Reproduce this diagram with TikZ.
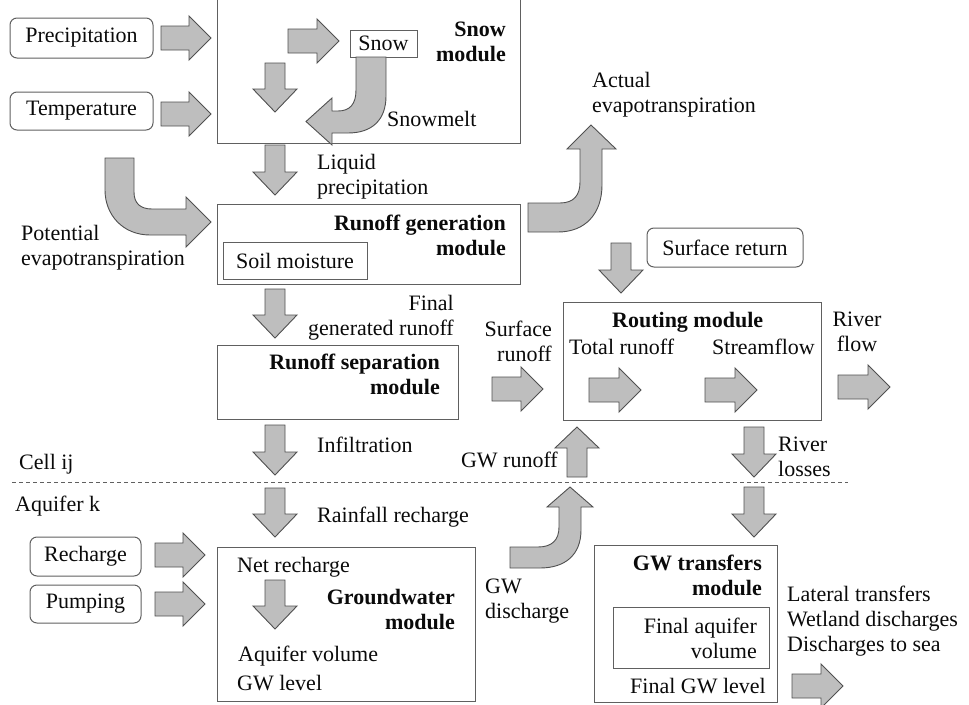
\documentclass[tikz,border=0pt]{standalone}
\usepackage{fontspec}
\setmainfont{Liberation Serif}
\definecolor{arrowfill}{HTML}{BEBEBE}
\definecolor{arrowline}{HTML}{505050}
\definecolor{boxline}{HTML}{606060}
\definecolor{textcol}{HTML}{0A0A0A}
\newcommand\bkR[3]{\draw[barrow] (#1,#2-12) -- (#3-22,#2-12) -- (#3-22,#2-22) -- (#3,#2) -- (#3-22,#2+22) -- (#3-22,#2+12) -- (#1,#2+12) -- cycle;}
\newcommand\bkD[3]{\draw[barrow] (#1-10,#2) -- (#1+10,#2) -- (#1+10,#3-23) -- (#1+22,#3-23) -- (#1,#3) -- (#1-22,#3-23) -- (#1-10,#3-23) -- cycle;}
\newcommand\bkU[3]{\draw[barrow] (#1-10,#2) -- (#1+10,#2) -- (#1+10,#3+21) -- (#1+22,#3+21) -- (#1,#3) -- (#1-22,#3+21) -- (#1-10,#3+21) -- cycle;}
\begin{document}
\begin{tikzpicture}[x=1pt,y=-1pt,
  font=\fontsize{22}{25}\selectfont, text=textcol,
  box/.style={draw=boxline, line width=1pt, inner sep=0pt, rectangle},
  rbox/.style={box, rounded corners=7pt},
  barrow/.style={draw=arrowline, line width=0.9pt, fill=arrowfill, line join=miter},
  lbl/.style={inner sep=0pt, align=left, anchor=north west},
  rlbl/.style={inner sep=0pt, align=right, anchor=north east},
  clbl/.style={inner sep=0pt, align=center, anchor=north},
  bold/.style={font=\fontsize{22}{25}\selectfont\bfseries}]
\useasboundingbox (0,0) rectangle (969,704);

% ---------- boxes ----------
\node[rbox, minimum width=143pt, minimum height=40pt] (precip) at (81.5,38) {Precipitation};
\node[rbox, minimum width=143pt, minimum height=38pt] (temp) at (81.5,111) {Temperature};
\node[box, minimum width=303pt, minimum height=145pt] (snowmod) at (368.5,70.5) {};
\node[box, minimum width=67pt, minimum height=27pt] (snow) at (383.5,43.5) {Snow};
\node[box, minimum width=303pt, minimum height=80pt] (rungen) at (368.5,244) {};
\node[box, minimum width=144pt, minimum height=37pt] (soil) at (295,260.5) {Soil moisture};
\node[rbox, minimum width=156pt, minimum height=39pt] (surfret) at (725,247.5) {Surface return};
\node[box, minimum width=241pt, minimum height=74pt] (runsep) at (337.5,382) {};
\node[box, minimum width=258pt, minimum height=118pt] (routing) at (692,361) {};
\node[rbox, minimum width=111pt, minimum height=39pt] (recharge) at (85.5,556.5) {Recharge};
\node[rbox, minimum width=111pt, minimum height=38pt] (pumping) at (85.5,604) {Pumping};
\node[box, minimum width=258pt, minimum height=154pt] (gwmod) at (346,624) {};
\node[box, minimum width=183pt, minimum height=157pt] (gwtrans) at (685.5,623.5) {};
\node[box, minimum width=156pt, minimum height=61pt] (finalaq) at (691,637.5) {};

% ---------- labels ----------
\node[rlbl, bold] (snowlbl) at (506,22) {Snow\\module};
\node[lbl] (snowmelt) at (387,111) {Snowmelt};
\node[lbl] (liquid) at (317,154) {Liquid\\precipitation};
\node[lbl] (pet) at (21,225) {Potential\\evapotranspiration};
\node[rlbl, bold] (rungenlbl) at (506,215) {Runoff generation\\module};
\node[lbl] (aet) at (592,72) {Actual\\evapotranspiration};
\node[rlbl] (finalgen) at (454,295) {Final\\generated runoff};
\node[rlbl, bold] (runseplbl) at (440,354) {Runoff separation\\module};
\node[rlbl] (surfrun) at (552,321) {Surface\\runoff};
\node[lbl, bold] (routlbl) at (612,312) {Routing module};
\node[lbl] (totrun) at (569,339) {Total runoff};
\node[lbl] (stream) at (712,339) {Streamflow};
\node[clbl] (riverflow) at (857,312) {River\\flow};
\node[lbl] (infil) at (317,437) {Infiltration};
\node[lbl] (cell) at (19,454) {Cell ij};
\node[rlbl] (gwrun) at (558,452) {GW runoff};
\node[lbl] (rivloss) at (778,437) {River\\losses};
\node[lbl] (aquif) at (15,496) {Aquifer k};
\node[lbl] (rainrech) at (317,507) {Rainfall recharge};
\node[lbl] (netrech) at (237,557) {Net recharge};
\node[rlbl, bold] (gwlbl) at (455,589) {Groundwater\\module};
\node[lbl] (aqvol) at (238,646) {Aquifer volume};
\node[lbl] (gwlev) at (237,675) {GW level};
\node[lbl] (gwdis) at (485,579) {GW\\discharge};
\node[rlbl, bold] (gwtrlbl) at (762,555) {GW transfers\\module};
\node[rlbl] (finaqlbl) at (757,618) {Final aquifer\\volume};
\node[rlbl] (fingw) at (766,678) {Final GW level};
\node[lbl] (lateral) at (787,586) {Lateral transfers\\Wetland discharges\\Discharges to sea};

% ---------- dashed separator ----------
\coordinate (dashL) at (12,482);
\coordinate (dashR) at (848,482);
\draw[boxline, line width=0.8pt, dash pattern=on 4pt off 3pt] (dashL) -- (dashR);

% ---------- straight block arrows ----------
\bkR{161}{38}{211}
\bkR{161}{114}{211}
\bkR{288}{41}{339}
\bkR{492}{389}{543}
\bkR{589}{390}{641}
\bkR{705}{390}{757}
\bkR{838}{387}{890}
\bkR{155}{555}{205}
\bkR{155}{604}{205}
\bkR{792}{686}{843}
\bkD{275}{63}{112}
\bkD{275}{145}{195}
\bkD{275}{289}{338}
\bkD{275}{425}{475}
\bkD{275}{488}{537}
\bkD{275}{580}{629}
\bkD{621}{243}{293}
\bkD{754}{427}{477}
\bkD{754}{487}{537}
\bkU{577}{477}{427}

% ---------- curved block arrows ----------
% snowmelt
\draw[barrow] (356,57) -- (386,57) -- (386,96) .. controls (386,120) and (372,133) .. (348,133)
  -- (332,133) -- (332,145) -- (306,121.5) -- (332,98) -- (332,111) -- (338,111)
  .. controls (350,111) and (356,104) .. (356,90) -- cycle;
% potential evapotranspiration
\draw[barrow] (105,158) -- (134,158) -- (134,192) .. controls (134,203) and (140,209) .. (152,209)
  -- (186,209) -- (186,197) -- (211,222) -- (186,247) -- (186,235) -- (150,235)
  .. controls (123,235) and (105,215) .. (105,190) -- cycle;
% actual evapotranspiration
\draw[barrow] (528,203) -- (560,203) .. controls (574,203) and (580,195) .. (580,182)
  -- (580,149) -- (567,149) -- (591,125) -- (616,149) -- (602,149) -- (602,185)
  .. controls (602,214) and (585,232) .. (558,232) -- (528,232) -- cycle;
% GW discharge
\draw[barrow] (510,547) -- (538,547) .. controls (552,547) and (559,540) .. (559,527)
  -- (559,507) -- (547,507) -- (570,487) -- (593,507) -- (581,507) -- (581,530)
  .. controls (581,555) and (565,568) .. (540,568) -- (510,568) -- cycle;
\end{tikzpicture}
\end{document}
